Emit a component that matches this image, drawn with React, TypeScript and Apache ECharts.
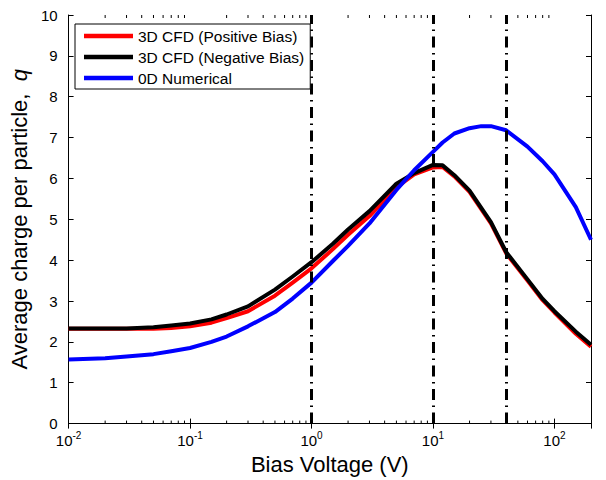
import React, { useEffect, useRef } from "react";
import * as echarts from "echarts";

const cfdVoltage = [0.01, 0.02, 0.03, 0.05, 0.07, 0.1, 0.15, 0.2, 0.3, 0.5, 0.7, 1, 1.5, 2, 3, 5, 7, 10, 12, 15, 20, 30, 40, 60, 80, 100, 150, 200];
const positiveBias = [2.32, 2.32, 2.32, 2.32, 2.34, 2.38, 2.47, 2.58, 2.75, 3.13, 3.45, 3.8, 4.27, 4.62, 5.08, 5.78, 6.1, 6.27, 6.28, 6.05, 5.67, 4.9, 4.17, 3.5, 3.02, 2.72, 2.2, 1.88];
const negativeBias = [2.33, 2.33, 2.33, 2.36, 2.4, 2.45, 2.55, 2.67, 2.87, 3.28, 3.6, 3.95, 4.4, 4.75, 5.2, 5.87, 6.13, 6.33, 6.32, 6.08, 5.7, 4.93, 4.2, 3.53, 3.05, 2.75, 2.25, 1.93];
const numVoltage = [0.01, 0.02, 0.03, 0.05, 0.07, 0.1, 0.15, 0.2, 0.3, 0.5, 0.7, 1, 1.5, 2, 3, 5, 7, 10, 12, 15, 20, 25, 30, 40, 60, 80, 100, 150, 200];
const numerical = [1.57, 1.6, 1.64, 1.7, 1.77, 1.85, 2.0, 2.13, 2.38, 2.73, 3.06, 3.45, 3.98, 4.35, 4.9, 5.72, 6.2, 6.65, 6.88, 7.1, 7.23, 7.28, 7.28, 7.18, 6.78, 6.42, 6.1, 5.3, 4.5];
const refVoltages = [1, 10, 40];
const minorTickValues = [
  0.02, 0.03, 0.04, 0.05, 0.06, 0.07, 0.08, 0.09,
  0.2, 0.3, 0.4, 0.5, 0.6, 0.7, 0.8, 0.9,
  2, 3, 4, 5, 6, 7, 8, 9,
  20, 30, 40, 50, 60, 70, 80, 90,
];
const seriesNames = ["3D CFD (Positive Bias)", "3D CFD (Negative Bias)", "0D Numerical"];

const FONT = "'Liberation Sans', Arial, Helvetica, sans-serif";

function logLabel(v: number): string {
  const k = Math.round(Math.log10(v));
  if (Math.abs(v - Math.pow(10, k)) / v > 1e-6) return "";
  return `{b|10}{s|${k}}`;
}

export default function App() {
  const ref = useRef<HTMLDivElement>(null);
  useEffect(() => {
    if (!ref.current) return;
    const chart = echarts.init(ref.current, undefined, { renderer: "svg" });
    const axisLine = { show: true, lineStyle: { color: "#000", width: 1 } };
    const lineCommon = { showSymbol: false, symbol: "none", smooth: false };
    const option: any = {
      animation: false,
      backgroundColor: "#fff",
      textStyle: { fontFamily: FONT },
      grid: { left: 68, right: 15, top: 15, bottom: 51, containLabel: false },
      legend: {
        data: seriesNames,
        orient: "vertical",
        left: 75,
        top: 24,
        icon: "rect",
        itemWidth: 49,
        itemHeight: 4.5,
        itemGap: 5,
        padding: [4, 6, 3, 9],
        borderColor: "#000",
        borderWidth: 1,
        backgroundColor: "#fff",
        borderRadius: 0,
        textStyle: { fontFamily: FONT, fontSize: 15.5, color: "#000" },
        z: 10,
      },
      xAxis: [
        {
          type: "log",
          logBase: 10,
          min: 0.01,
          max: 200,
          position: "bottom",
          axisLine,
          axisTick: { show: true, inside: true, length: 5, lineStyle: { color: "#000" } },
          splitLine: { show: false },
          axisLabel: {
            margin: 7,
            color: "#000",
            formatter: logLabel,
            rich: {
              b: { fontFamily: FONT, fontSize: 15, color: "#000" },
              s: { fontFamily: FONT, fontSize: 10, color: "#000", padding: [0, 0, 10, 0] },
            },
          },
          name: "Bias Voltage (V)",
          nameLocation: "middle",
          nameGap: 26,
          nameTextStyle: { fontFamily: FONT, fontSize: 22, color: "#000" },
        },
        {
          type: "log",
          logBase: 10,
          min: 0.01,
          max: 200,
          position: "top",
          axisLine,
          axisTick: { show: true, inside: true, length: 5, lineStyle: { color: "#000" } },
          splitLine: { show: false },
          axisLabel: { show: false },
        },
      ],
      yAxis: [
        {
          type: "value",
          min: 0,
          max: 10,
          interval: 1,
          position: "left",
          axisLine,
          axisTick: { show: true, inside: true, length: 5, lineStyle: { color: "#000" } },
          splitLine: { show: false },
          axisLabel: { margin: 11, color: "#000", fontFamily: FONT, fontSize: 15 },
          name: "{a|Average charge per particle,  }{q|q}",
          nameLocation: "middle",
          nameGap: 30,
          nameTextStyle: {
            fontFamily: FONT,
            fontSize: 22,
            color: "#000",
            rich: {
              a: { fontFamily: FONT, fontSize: 22, color: "#000" },
              q: { fontFamily: FONT, fontSize: 22, color: "#000", fontStyle: "italic" },
            },
          },
        },
        {
          type: "value",
          min: 0,
          max: 10,
          interval: 1,
          position: "right",
          axisLine,
          axisTick: { show: true, inside: true, length: 5, lineStyle: { color: "#000" } },
          splitLine: { show: false },
          axisLabel: { show: false },
        },
      ],
      series: [
        {
          name: seriesNames[0],
          type: "line",
          xAxisIndex: 0,
          yAxisIndex: 0,
          data: cfdVoltage.map((v, i) => [v, positiveBias[i]]),
          ...lineCommon,
          lineStyle: { color: "#ff0000", width: 4, join: "round" },
          itemStyle: { color: "#ff0000" },
          z: 2,
        },
        {
          name: seriesNames[1],
          type: "line",
          data: cfdVoltage.map((v, i) => [v, negativeBias[i]]),
          ...lineCommon,
          lineStyle: { color: "#000000", width: 4, join: "round" },
          itemStyle: { color: "#000000" },
          z: 3,
        },
        {
          name: seriesNames[2],
          type: "line",
          data: numVoltage.map((v, i) => [v, numerical[i]]),
          ...lineCommon,
          lineStyle: { color: "#0000ff", width: 4, join: "round" },
          itemStyle: { color: "#0000ff" },
          z: 4,
        },
        {
          name: "refs",
          type: "line",
          data: [],
          z: 5,
          markLine: {
            silent: true,
            symbol: ["none", "none"],
            label: { show: false },
            lineStyle: { color: "#000", width: 3, type: [11, 5.5, 1.5, 5.5] },
            data: refVoltages.map((v) => ({ xAxis: v })),
          },
        },
        {
          name: "minorTicks",
          type: "custom",
          xAxisIndex: 0,
          yAxisIndex: 0,
          silent: true,
          z: 6,
          data: minorTickValues.map((v) => [v, 0]),
          renderItem: (params: any, api: any) => {
            const x = api.coord([api.value(0), 0])[0];
            const cs = params.coordSys;
            const bottom = cs.y + cs.height;
            const style = { stroke: "#000", lineWidth: 1 };
            return {
              type: "group",
              children: [
                { type: "line", shape: { x1: x, y1: bottom, x2: x, y2: bottom - 3 }, style },
                { type: "line", shape: { x1: x, y1: cs.y, x2: x, y2: cs.y + 3 }, style },
              ],
            };
          },
        },
      ],
    };
    chart.setOption(option);
    return () => chart.dispose();
  }, []);
  return (
    <div
      ref={ref}
      style={{ position: "fixed", left: 0, top: 0, width: 606, height: 480, background: "#fff" }}
    />
  );
}
